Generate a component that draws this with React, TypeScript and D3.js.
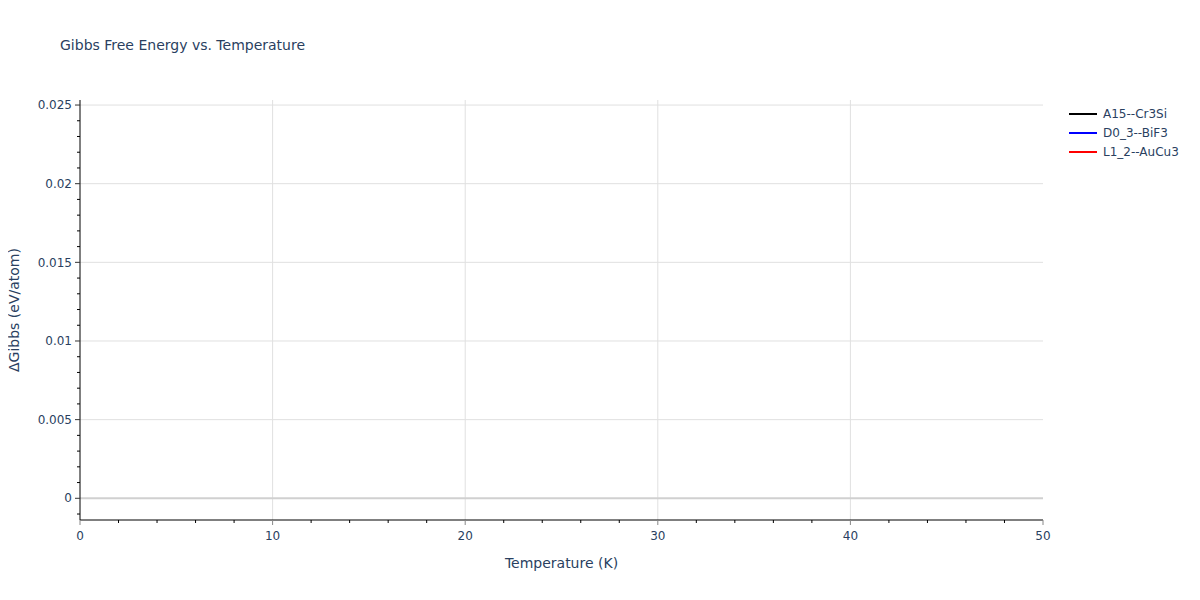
import React from "react";
import * as d3 from "d3";

type Series = {
  name: string;
  color: string;
  temps: number[];
  gibbs: number[];
};

// no points fall inside the visible window in the reference
const seriesNames = ["A15--Cr3Si", "D0_3--BiF3", "L1_2--AuCu3"];
const seriesColors = ["black", "blue", "red"];
const temperatures: number[] = [];
const gibbsA15: number[] = [];
const gibbsD03: number[] = [];
const gibbsL12: number[] = [];

const xTicks = [0, 10, 20, 30, 40, 50];
const yTicks = [0, 0.005, 0.01, 0.015, 0.02, 0.025];
const xDomain = [0, 50];
const yDomain = [-0.00138, 0.02532];

const WIDTH = 1200;
const HEIGHT = 600;
const M = { left: 80, right: 157, top: 100, bottom: 80 };
const FONT = "'DejaVu Sans', Verdana, sans-serif";
const TEXT = "#2a3f5f";

export default function App() {
  const series: Series[] = [gibbsA15, gibbsD03, gibbsL12].map((g, i) => ({
    name: seriesNames[i],
    color: seriesColors[i],
    temps: temperatures,
    gibbs: g,
  }));

  const x = d3.scaleLinear().domain(xDomain).range([M.left, WIDTH - M.right]);
  const y = d3.scaleLinear().domain(yDomain).range([HEIGHT - M.bottom, M.top]);

  const xMinor = d3.range(0, 50.001, 2).filter((v) => v % 10 !== 0);
  const yMinor = d3
    .range(-0.001, 0.0252, 0.001)
    .filter((v) => Math.abs(Math.round(v * 1000) % 5) !== 0);

  const line = d3
    .line<[number, number]>()
    .x((d) => x(d[0]))
    .y((d) => y(d[1]));

  const bottom = HEIGHT - M.bottom;

  return (
    <svg width={WIDTH} height={HEIGHT} style={{ display: "block", margin: -8 }} fontFamily={FONT}>
      <rect width={WIDTH} height={HEIGHT} fill="white" />
      <text x={60} y={50} fontSize={14} fill={TEXT}>
        Gibbs Free Energy vs. Temperature
      </text>

      {/* grid */}
      {xTicks.slice(1, -1).map((t) => (
        <line key={"gx" + t} x1={x(t)} x2={x(t)} y1={M.top} y2={bottom} stroke="#e0e0e0" />
      ))}
      {yTicks.slice(1).map((t) => (
        <line key={"gy" + t} x1={M.left} x2={WIDTH - M.right} y1={y(t)} y2={y(t)} stroke="#e0e0e0" />
      ))}
      <line x1={M.left} x2={WIDTH - M.right} y1={y(0)} y2={y(0)} stroke="#d0d0d0" strokeWidth={2} />

      {/* series */}
      {series.map((s) => (
        <path
          key={s.name}
          d={line(s.temps.map((t, i) => [t, s.gibbs[i]] as [number, number])) || ""}
          fill="none"
          stroke={s.color}
          strokeWidth={2}
        />
      ))}

      {/* axes */}
      <line x1={M.left} x2={WIDTH - M.right} y1={bottom} y2={bottom} stroke="black" />
      <line x1={M.left} x2={M.left} y1={M.top} y2={bottom} stroke="black" />
      {xTicks.map((t) => (
        <g key={"xt" + t}>
          <line x1={x(t)} x2={x(t)} y1={bottom} y2={bottom + 5} stroke="#888" />
          <text x={x(t)} y={bottom + 20} fontSize={12} fill={TEXT} textAnchor="middle">
            {t}
          </text>
        </g>
      ))}
      {xMinor.map((t) => (
        <line key={"xm" + t} x1={x(t)} x2={x(t)} y1={bottom} y2={bottom + 3} stroke="black" />
      ))}
      {yTicks.map((t) => (
        <g key={"yt" + t}>
          <line x1={M.left - 5} x2={M.left} y1={y(t)} y2={y(t)} stroke="#333" />
          <text x={M.left - 8} y={y(t)} dy="0.35em" fontSize={12} fill={TEXT} textAnchor="end">
            {d3.format("~g")(t)}
          </text>
        </g>
      ))}
      {yMinor.map((t) => (
        <line key={"ym" + t} x1={M.left - 3} x2={M.left} y1={y(t)} y2={y(t)} stroke="black" />
      ))}

      <text x={(M.left + WIDTH - M.right) / 2} y={568} fontSize={14} fill={TEXT} textAnchor="middle">
        Temperature (K)
      </text>
      <text
        transform={`translate(19, ${(M.top + bottom) / 2}) rotate(-90)`}
        fontSize={14}
        fill={TEXT}
        textAnchor="middle"
      >
        ΔGibbs (eV/atom)
      </text>

      {/* legend */}
      {series.map((s, i) => (
        <g key={"lg" + s.name} transform={`translate(1069, ${114 + i * 19})`}>
          <line x1={0} x2={28} y1={0} y2={0} stroke={s.color} strokeWidth={2} />
          <text x={34} y={0} dy="0.35em" fontSize={12} fill={TEXT}>
            {s.name}
          </text>
        </g>
      ))}
    </svg>
  );
}
